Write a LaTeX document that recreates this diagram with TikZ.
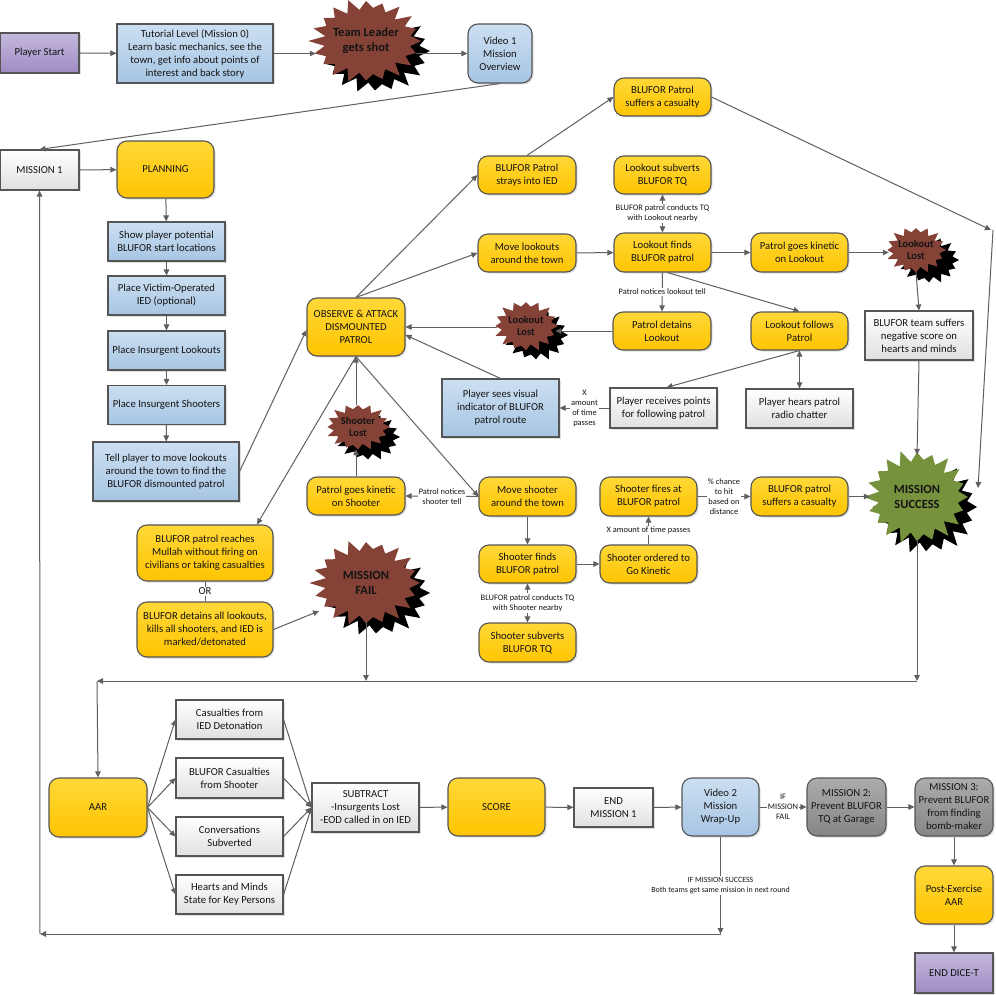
\documentclass[tikz,border=0pt]{standalone}
\usepackage{fontspec}
\setmainfont{Carlito}
\usetikzlibrary{shapes.geometric,arrows.meta,shadows,calc}
\definecolor{yel1}{RGB}{255,216,56}
\definecolor{yel2}{RGB}{255,196,0}
\definecolor{blu1}{RGB}{204,223,241}
\definecolor{blu2}{RGB}{166,197,227}
\definecolor{wht2}{RGB}{224,224,224}
\definecolor{pur1}{RGB}{196,184,222}
\definecolor{pur2}{RGB}{158,140,194}
\definecolor{gry1}{RGB}{172,172,172}
\definecolor{gry2}{RGB}{134,134,134}
\definecolor{brn}{RGB}{133,66,55}
\definecolor{grn}{RGB}{118,146,60}
\definecolor{bdr}{RGB}{85,85,85}
\definecolor{lnc}{RGB}{95,95,95}
\definecolor{txt}{RGB}{20,20,20}
\newcommand\mainfs{\fontsize{10.7}{13}\selectfont}
\newcommand\lblfs{\fontsize{8.4}{10}\selectfont}
\newcommand\lblsmfs{\fontsize{7.9}{10}\selectfont}
\newcommand\starfs{\bfseries\fontsize{12.5}{15}\selectfont}
\newcommand\smstarfs{\bfseries\fontsize{10.5}{12.5}\selectfont}
% #1 colour, #2 cx, #3 cy, #4 rx, #5 ry, #6 last vertex index (2n-1), #7 inner ratio
\newcommand\mystarburst[7]{%
  \fill[#1] ({#2+#4},{#3}) \foreach \k in {1,...,#6} {
     -- ({#2+#4*(1-(1-#7)*mod(\k,2))*(1+0.05*sin(\k*131))*cos(\k*360/(#6+1))},
         {#3+#5*(1-(1-#7)*mod(\k,2))*(1+0.05*sin(\k*131))*sin(\k*360/(#6+1))}) } -- cycle;}
\begin{document}
\begin{tikzpicture}[x=1pt,y=-1pt,
  base/.style={draw=bdr, line width=1.1pt, align=center, inner sep=1pt, font=\mainfs, text=txt,
     drop shadow={shadow xshift=1.5pt, shadow yshift=-1.5pt, opacity=0.25}},
  sz/.style 2 args={minimum width=#1pt, minimum height=#2pt},
  ybox/.style={base, rounded corners=10pt, top color=yel1, bottom color=yel2},
  bbox/.style={base, top color=blu1, bottom color=blu2},
  bround/.style={bbox, rounded corners=10pt},
  wbox/.style={base, top color=white, bottom color=wht2},
  pbox/.style={base, top color=pur1, bottom color=pur2},
  gbox/.style={base, rounded corners=10pt, top color=gry1, bottom color=gry2},
  burstlbl/.style={ellipse, inner sep=0pt, align=center, text=txt},
  arr/.style={draw=lnc, line width=1pt, -{Triangle[length=6pt,width=5.5pt]}},
  darr/.style={draw=lnc, line width=1pt, {Triangle[length=6pt,width=5.5pt]}-{Triangle[length=6pt,width=5.5pt]}},
  plain/.style={draw=lnc, line width=1pt},
  lbl/.style={font=\lblfs, fill=white, inner sep=1pt, align=center, text=txt},
]
\useasboundingbox[fill=white] (0,0) rectangle (995,995);

% ---------- starbursts: black shadow, then coloured star ----------
\mystarburst{black}{375}{51}{55}{41}{39}{0.78}
\mystarburst{brn}{366}{41}{55}{41}{39}{0.78}
\mystarburst{black}{929}{260}{30}{23}{31}{0.76}
\mystarburst{brn}{916}{250}{30}{23}{31}{0.76}
\mystarburst{black}{536}{335}{32}{25}{31}{0.76}
\mystarburst{brn}{526}{326}{32}{25}{31}{0.76}
\mystarburst{black}{368}{437}{32}{23}{31}{0.76}
\mystarburst{brn}{358}{427}{32}{23}{31}{0.76}
\mystarburst{black}{376}{593}{54}{42}{39}{0.78}
\mystarburst{brn}{366}{583}{54}{42}{39}{0.78}
\mystarburst{black}{926}{507}{51}{46}{39}{0.78}
\mystarburst{grn}{917}{497}{51}{46}{39}{0.78}

\node[burstlbl, font=\starfs, sz={100}{76}] (leader) at (366,41) {Team Leader\\gets shot};
\node[burstlbl, font=\smstarfs, sz={54}{44}] (lost1) at (916,250) {Lookout\\Lost};
\node[burstlbl, font=\smstarfs, sz={58}{46}] (lost2) at (526,326) {Lookout\\Lost};
\node[burstlbl, font=\smstarfs, sz={58}{44}] (slost) at (358,427) {Shooter\\Lost};
\node[burstlbl, font=\starfs, sz={98}{78}] (fail) at (366,583) {MISSION\\FAIL};
\node[burstlbl, font=\starfs, sz={94}{84}] (success) at (917,497) {MISSION\\SUCCESS};

% ---------- boxes ----------
\node[pbox, sz={79}{40}] (start) at (39.5,53) {Player Start};
\node[bbox, sz={156}{59}] (tut) at (195,53.5) {Tutorial Level (Mission 0)\\Learn basic mechanics, see the\\town, get info about points of\\interest and back story};
\node[bround, sz={64}{59}] (vid1) at (500,53.5) {Video 1\\Mission\\Overview};
\node[wbox, sz={79}{40}] (m1) at (39.5,170) {MISSION 1};
\node[ybox, sz={97}{57}] (plan) at (165.5,169.5) {PLANNING};
\node[bbox, sz={117}{39}] (show) at (166.5,241.5) {Show player potential\\BLUFOR start locations};
\node[bbox, sz={117}{39}] (ied) at (166.5,295.5) {Place Victim-Operated\\IED (optional)};
\node[bbox, sz={117}{39}] (plook) at (166.5,350.5) {Place Insurgent Lookouts};
\node[bbox, sz={117}{39}] (pshoot) at (166.5,405) {Place Insurgent Shooters};
\node[bbox, sz={146}{59}] (tell) at (166,471.5) {Tell player to move lookouts\\around the town to find the\\BLUFOR dismounted patrol};
\node[ybox, sz={98}{58}] (observe) at (356,327) {OBSERVE \& ATTACK\\DISMOUNTED\\PATROL};
\node[ybox, sz={98}{38}] (strays) at (527,175) {BLUFOR Patrol\\strays into IED};
\node[ybox, sz={98}{38}] (movelook) at (527,253) {Move lookouts\\around the town};
\node[ybox, sz={97}{38}] (cas1) at (662.5,97) {BLUFOR Patrol\\suffers a casualty};
\node[ybox, sz={97}{38}] (lsub) at (662.5,175) {Lookout subverts\\BLUFOR TQ};
\node[ybox, sz={97}{39}] (lfind) at (662.5,252.5) {Lookout finds\\BLUFOR patrol};
\node[ybox, sz={97}{39}] (kinlook) at (799.5,252.5) {Patrol goes kinetic\\on Lookout};
\node[ybox, sz={98}{38}] (detain) at (662,331) {Patrol detains\\Lookout};
\node[ybox, sz={97}{38}] (follows) at (799.5,331) {Lookout follows\\Patrol};
\node[wbox, sz={108}{49}] (negative) at (919,335.5) {BLUFOR team suffers\\negative score on\\hearts and minds};
\node[bbox, sz={117}{58}] (psees) at (500.5,408) {Player sees visual\\indicator of BLUFOR\\patrol route};
\node[wbox, sz={107}{40}] (precv) at (663.5,408) {Player receives points\\for following patrol};
\node[wbox, sz={107}{39}] (hears) at (799.5,408.5) {Player hears patrol\\radio chatter};
\node[ybox, sz={98}{38}] (kinshoot) at (356,496) {Patrol goes kinetic\\on Shooter};
\node[ybox, sz={97}{39}] (moveshoot) at (527.5,496.5) {Move shooter\\around the town};
\node[ybox, sz={97}{39}] (fires) at (648.5,496.5) {Shooter fires at\\BLUFOR patrol};
\node[ybox, sz={97}{39}] (cas2) at (799.5,496.5) {BLUFOR patrol\\suffers a casualty};
\node[ybox, sz={97}{38}] (sfind) at (527.5,564) {Shooter finds\\BLUFOR patrol};
\node[ybox, sz={97}{38}] (order) at (648.5,564) {Shooter ordered to\\Go Kinetic};
\node[ybox, sz={97}{39}] (ssub) at (527.5,642.5) {Shooter subverts\\BLUFOR TQ};
\node[ybox, sz={136}{56}] (reach) at (205,553) {BLUFOR patrol reaches\\Mullah without firing on\\civilians or taking casualties};
\node[ybox, sz={136}{55}] (detall) at (205,629.5) {BLUFOR detains all lookouts,\\kills all shooters, and IED is\\marked/detonated};
\node[ybox, sz={98}{59}] (aar) at (98,807.5) {AAR};
\node[wbox, sz={107}{39}] (c1) at (229.5,719.5) {Casualties from\\IED Detonation};
\node[wbox, sz={107}{40}] (c2) at (229.5,778) {BLUFOR Casualties\\from Shooter};
\node[wbox, sz={107}{39}] (c3) at (229.5,836.5) {Conversations\\Subverted};
\node[wbox, sz={107}{39}] (c4) at (229.5,894.5) {Hearts and Minds\\State for Key Persons};
\node[wbox, sz={107}{49}] (subtr) at (365.5,807.5) {SUBTRACT\\-Insurgents Lost\\-EOD called in on IED};
\node[ybox, sz={97}{58}] (score) at (496.5,807) {SCORE};
\node[wbox, sz={79}{39}] (endm1) at (613.5,807.5) {END\\MISSION 1};
\node[bround, sz={77}{58}] (vid2) at (720.5,807) {Video 2\\Mission\\Wrap-Up};
\node[gbox, sz={79}{58}] (m2) at (846.5,807) {MISSION 2:\\Prevent BLUFOR\\TQ at Garage};
\node[gbox, sz={78}{58}] (m3) at (954,807) {MISSION 3:\\Prevent BLUFOR\\from finding\\bomb-maker};
\node[ybox, sz={78}{58}] (post) at (954,895) {Post-Exercise\\AAR};
\node[pbox, sz={78}{40}] (endd) at (954,973) {END DICE-T};

% ---------- helper coordinates ----------
\coordinate (corner) at (991,230);
\coordinate (la) at (917,681);
\coordinate (lb) at (97,681);
\coordinate (lc) at (720.5,934);
\coordinate (ld) at (40,934);

% ---------- connectors ----------
\draw[arr] (start) -- (tut);
\draw[arr] (tut.east) -- (tut.east -| leader.west);
\draw[arr] (leader.east |- vid1.west) -- (vid1.west);
\draw[arr] (vid1.south) -- (m1.north);
\draw[arr] (m1) -- (plan);
\draw[arr] (plan) -- (show);
\draw[arr] (show) -- (ied);
\draw[arr] (ied) -- (plook);
\draw[arr] (plook) -- (pshoot);
\draw[arr] (pshoot) -- (tell);
\draw[arr] (tell.east) -- ([yshift=-3pt]observe.west);
\draw[arr] (observe.north) -- (strays.west);
\draw[arr] (observe.north) -- (movelook.west);
\draw[arr] (strays.north) -- (cas1.west);
\draw[arr] (movelook) -- (lfind);
\draw[darr] (lfind.north) -- node[lbl]{BLUFOR patrol conducts TQ\\with Lookout nearby} (lsub.south);
\draw[arr] (lfind) -- (kinlook);
\draw[arr] (kinlook.east) -- (kinlook.east -| lost1.west);
\draw[arr] (lfind.south) -- node[lbl]{Patrol notices lookout tell} (detain.north);
\draw[arr] ([xshift=5pt]lfind.south) -- (follows.north);
\draw[arr] (detain.west) -- (lost2.east |- detain.west);
\draw[arr] (lost2.west |- observe.east) -- (observe.east);
\draw[arr] (psees.north) -- ([yshift=-8pt]observe.east);
\draw[arr] (precv.west) -- node[lbl]{X\\amount\\of time\\passes} (psees.east);
\draw[arr] (follows.south) -- ([xshift=3pt]precv.north);
\draw[darr] (follows.south) -- (hears.north);
\draw[arr] (lost1.south) -- (negative.north);
\draw[arr] (negative.south) -- (success.north);
\draw[arr] (cas1.east) -- (corner);
\draw[arr] ([xshift=2pt]corner) -- ([shift={(61,-9)}]success.center);
\draw[arr] (kinshoot.north) -- (kinshoot.north |- slost.south);
\draw[arr] (observe.south |- slost.north) -- (observe.south);
\draw[arr] (observe.south) -- (moveshoot.west);
\draw[arr] (observe.south) -- ([xshift=52pt]reach.north);
\draw[arr] (moveshoot.west) -- node[lbl]{Patrol notices\\shooter tell} (kinshoot.east);
\draw[arr] (moveshoot) -- (sfind);
\draw[darr] (sfind.south) -- node[lbl]{BLUFOR patrol conducts TQ\\with Shooter nearby} (ssub.north);
\draw[arr] (sfind) -- (order);
\draw[arr] (order.north) -- node[lbl]{X amount of time passes} (fires.south);
\draw[arr] (fires.east) -- node[lbl]{\%\ chance\\to hit\\based on\\distance} (cas2.west);
\draw[arr] (cas2.east) -- (cas2.east -| success.west);
\draw[plain] (reach.south) -- node[fill=white, inner sep=1pt, font=\mainfs, text=txt]{OR} (detall.north);
\draw[arr] (detall.east) -- ([shift={(-47,28)}]fail.center);
\draw[arr] (success.south) -- (success.south |- la);
\draw[arr] (fail.south) -- (fail.south |- la);
\draw[arr] (la) -- (lb);
\draw[arr] (lb) -- (aar.north);
\draw[arr] (aar.east) -- (c1.west);
\draw[arr] (aar.east) -- (c2.west);
\draw[arr] (aar.east) -- (c3.west);
\draw[arr] (aar.east) -- (c4.west);
\draw[arr] (c1.east) -- (subtr.west);
\draw[arr] (c2.east) -- (subtr.west);
\draw[arr] (c3.east) -- (subtr.west);
\draw[arr] (c4.east) -- (subtr.west);
\draw[arr] (subtr) -- (score);
\draw[arr] (score) -- (endm1);
\draw[arr] (endm1) -- (vid2);
\draw[arr] (vid2.east) -- node[lbl]{IF\\MISSION\\FAIL} (m2.west);
\draw[arr] (m2) -- (m3);
\draw[arr] (m3) -- (post);
\draw[arr] (post) -- (endd);
\draw[arr] (vid2.south) -- node[lbl, font=\lblsmfs]{IF MISSION SUCCESS\\Both teams get same mission in next round} (lc);
\draw[arr] (lc) -- (ld);
\draw[arr] (ld) -- (m1.south);
\end{tikzpicture}
\end{document}
